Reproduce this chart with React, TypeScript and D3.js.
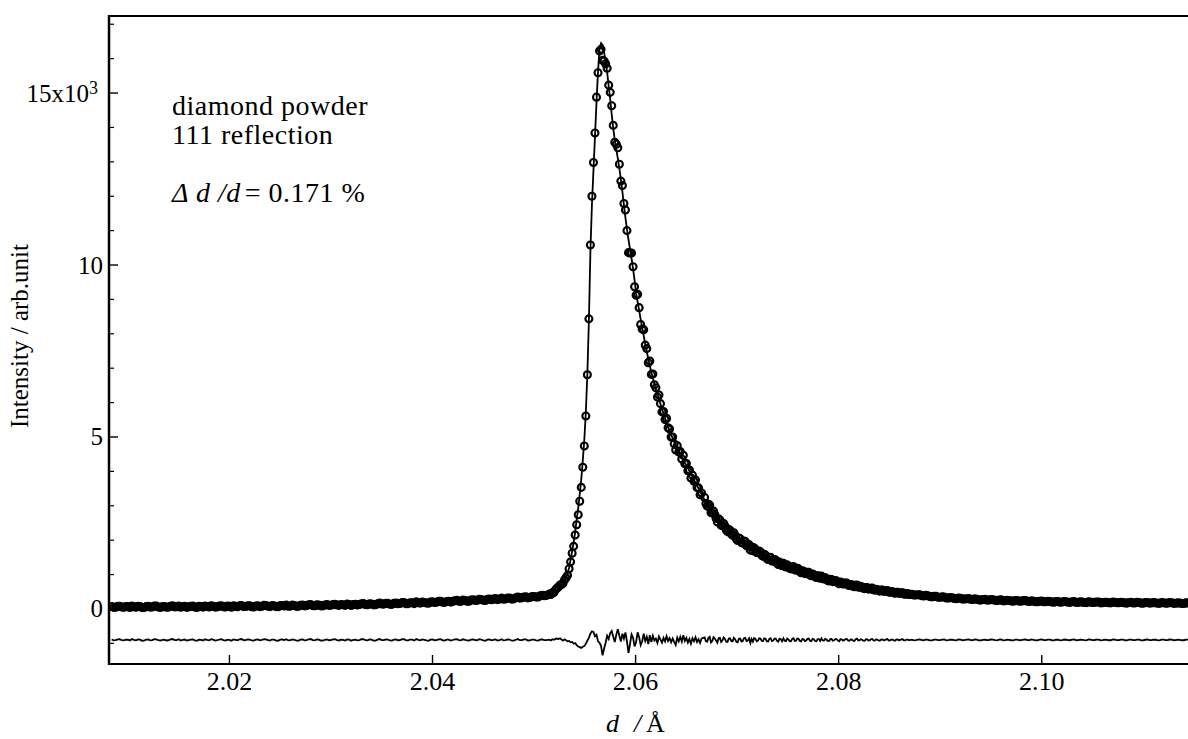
import React from 'react';
import * as d3 from 'd3';

// Each row: [d-spacing (Å), fitted intensity, observed − fitted]
type Row = [number, number, number];

const leftBackground: Row[] = [
  [2.0084,60,12],[2.0086,60,-14],[2.0088,60,-8],[2.0090,60,17],[2.0092,61,20],[2.0094,61,-4],[2.0096,61,-15],[2.0098,61,9],
  [2.0100,62,5],[2.0102,62,-19],[2.0104,62,24],[2.0106,62,2],[2.0108,62,-12],[2.0110,63,15],[2.0112,63,9],[2.0114,63,-23],
  [2.0116,63,-20],[2.0118,63,6],[2.0120,63,14],[2.0122,64,-11],[2.0124,64,-5],[2.0126,64,21],[2.0128,64,18],[2.0130,64,-8],
  [2.0132,64,-22],[2.0134,65,3],[2.0136,65,7],[2.0138,65,-16],[2.0140,65,-10],[2.0142,66,13],[2.0144,66,25],[2.0146,66,-6],
  [2.0148,66,-3],[2.0150,66,19],[2.0152,66,-18],[2.0154,67,-1],[2.0156,67,11],[2.0158,67,-21],[2.0160,67,-7],[2.0162,68,8],
  [2.0164,68,16],[2.0166,68,-12],[2.0168,68,-25],[2.0170,69,10],[2.0172,69,4],[2.0174,69,-15],[2.0176,69,19],[2.0178,70,1],
  [2.0180,70,-14],[2.0182,70,22],[2.0184,71,8],[2.0186,71,-18],[2.0188,71,-9],[2.0190,72,12],[2.0192,72,22],[2.0194,72,-5],
  [2.0196,73,-17],[2.0198,73,9],[2.0200,74,3],[2.0202,74,-22],[2.0204,75,15],[2.0206,75,4],[2.0208,76,-11],[2.0210,76,18],
  [2.0212,77,26],[2.0214,77,-9],[2.0216,78,-6],[2.0218,78,14],[2.0220,79,10],[2.0222,79,-16],[2.0224,80,-21],[2.0226,80,7],
  [2.0228,81,13],[2.0230,81,-12],[2.0232,82,-2],[2.0234,82,23],[2.0236,83,18],[2.0238,84,-7],[2.0240,85,-16],[2.0242,85,11],
  [2.0244,86,6],[2.0246,87,-19],[2.0248,88,-24],[2.0250,88,9],[2.0252,89,12],[2.0254,90,-3],[2.0256,91,21],[2.0258,92,-14],
  [2.0260,93,-9],[2.0262,94,17],[2.0264,95,4],[2.0266,96,-20],[2.0268,97,-19],[2.0270,98,8],[2.0272,99,16],[2.0274,100,-11],
  [2.0276,101,-4],[2.0278,102,19],[2.0280,103,27],[2.0282,104,-6],[2.0284,105,-13],[2.0286,106,12],[2.0288,107,8],[2.0290,108,-17],
  [2.0292,109,-20],[2.0294,110,5],[2.0296,112,14],[2.0298,113,-9],[2.0300,114,-7],[2.0302,115,16],[2.0304,116,23],[2.0306,117,-3],
  [2.0308,119,-15],[2.0310,120,10],[2.0312,121,2],[2.0314,122,-18],[2.0316,124,17],[2.0318,125,6],[2.0320,126,-26],[2.0322,127,4],
  [2.0324,129,9],[2.0326,130,-14],[2.0328,131,-3],[2.0330,132,21],[2.0332,134,20],[2.0334,135,-8],[2.0336,137,-12],[2.0338,138,13],
  [2.0340,140,6],[2.0342,141,-21],[2.0344,143,-18],[2.0346,144,9],[2.0348,146,25],[2.0350,147,-4],[2.0352,149,-8],[2.0354,150,15],
  [2.0356,152,11],[2.0358,153,-16],[2.0360,155,-22],[2.0362,156,7],[2.0364,158,15],[2.0366,160,-10],[2.0368,162,-5],[2.0370,164,20],
  [2.0372,166,19],[2.0374,167,-13],[2.0376,169,-14],[2.0378,171,11],[2.0380,173,7],[2.0382,175,-19],[2.0384,177,28],[2.0386,179,1],
  [2.0388,181,-10],[2.0390,183,16],[2.0392,186,3],[2.0394,188,-15],[2.0396,190,-23],[2.0398,192,8],[2.0400,195,16],[2.0402,197,-9],
  [2.0404,200,-6],[2.0406,202,18],[2.0408,205,21],[2.0410,207,-12],[2.0412,210,-17],[2.0414,213,6],[2.0416,216,9],[2.0418,219,-20],
  [2.0420,222,-2],[2.0422,225,14],[2.0424,228,24],[2.0426,231,-7],[2.0428,234,-13],[2.0430,237,19],[2.0432,240,5],[2.0434,243,-16],
  [2.0436,246,-21],[2.0438,249,10],[2.0440,252,18],[2.0442,255,-5],[2.0444,258,-9],[2.0446,261,22],[2.0448,264,12],[2.0450,267,-14],
  [2.0452,270,-25],[2.0454,273,8],[2.0456,276,14],[2.0458,279,-10],[2.0460,282,3],[2.0462,285,17],[2.0464,288,-16],[2.0466,291,-3],
  [2.0468,294,22],[2.0470,297,-15],[2.0472,300,-7],[2.0474,303,13],[2.0476,306,10],[2.0478,309,-22],[2.0480,313,-19],[2.0482,316,6],
  [2.0484,320,26],[2.0486,324,-8],[2.0488,328,-4],[2.0490,332,18],[2.0492,336,15],[2.0494,340,-17],[2.0496,345,-12],[2.0498,350,11],
  [2.0500,355,8],[2.0502,360,-14],[2.0504,366,-20],[2.0506,373,9],[2.0508,380,17],[2.0510,388,-3],[2.0512,396,-6],
];

const peakRegion: Row[] = [
  [2.05150,425,10],[2.05165,435,-15],[2.05180,450,20],[2.05195,470,5],[2.05210,525,30],[2.05225,565,40],[2.05240,610,25],
  [2.05255,648,45],[2.05270,700,10],[2.05285,770,-20],[2.05300,830,15],[2.05315,915,-10],[2.05330,1017,-40],[2.05345,1200,-30],
  [2.05360,1440,-70],[2.05375,1680,-60],[2.05390,1930,-110],[2.05405,2240,-90],[2.05420,2600,-150],[2.05435,2930,-190],
  [2.05450,3340,-210],[2.05465,3770,-235],[2.05480,4320,-200],[2.05495,4920,-180],[2.05510,5720,-110],[2.05525,6830,-20],
  [2.05540,8375,60],[2.05555,10400,180],[2.05570,11750,250],[2.05585,12750,230],[2.05600,13730,110],[2.05615,14730,150],
  [2.05630,15630,-40],[2.05645,16300,-80],[2.05660,16450,-180],[2.05675,16400,-450],[2.05690,16180,-250],[2.05705,15930,-80],
  [2.05720,15600,120],[2.05735,15200,30],[2.05750,14820,200],[2.05765,14370,260],[2.05780,13970,90],[2.05795,13630,-60],
  [2.05810,13360,150],[2.05825,13100,310],[2.05840,12810,120],[2.05855,12490,-50],[2.05870,12130,180],[2.05885,11750,40],
  [2.05900,11380,220],[2.05915,11040,-40],[2.05930,10740,-380],[2.05945,10470,-120],[2.05960,10190,160],[2.05975,9890,60],
  [2.05990,9560,-190],[2.06005,9180,-60],[2.06020,8930,220],[2.06035,8680,80],[2.06050,8420,-150],[2.06065,8180,-40],
  [2.06080,7940,180],[2.06095,7700,-30],[2.06110,7480,90],[2.06125,7280,-120],[2.06140,7070,140],[2.06155,6880,-60],
  [2.06170,6710,120],[2.06185,6540,-20],[2.06200,6390,40],[2.06215,6250,-90],[2.06230,6120,100],[2.06245,5960,10],
  [2.06260,5810,-80],[2.06275,5680,60],[2.06290,5550,-40],[2.06305,5430,110],[2.06320,5300,-30],[2.06335,5180,50],
  [2.06350,5070,-70],[2.06365,4960,40],[2.06380,4860,-60],[2.06395,4770,-150],[2.06410,4680,70],[2.06425,4600,-40],
  [2.06440,4490,90],[2.06455,4410,-50],[2.06470,4330,140],[2.06485,4250,-30],[2.06500,4170,60],[2.06515,4100,-80],
  [2.06530,4010,30],[2.06545,3920,-110],[2.06560,3840,50],[2.06575,3750,-40],[2.06590,3670,80],[2.06605,3590,-60],
  [2.06620,3500,20],[2.06635,3410,-90],[2.06650,3330,40],
];

const tailRegion: Row[] = [
  [2.066800,3170,70],[2.066925,3105,-40],[2.067050,3040,-50],[2.067175,2985,60],[2.067300,2930,90],[2.067425,2875,-70],
  [2.067550,2820,-30],[2.067675,2765,80],[2.067800,2710,40],[2.067925,2660,-20],[2.068050,2610,-80],[2.068175,2570,50],
  [2.068300,2530,60],[2.068425,2490,-60],[2.068550,2450,-20],[2.068675,2415,70],[2.068800,2380,30],[2.068925,2345,-50],
  [2.069050,2310,-60],[2.069175,2275,40],[2.069300,2240,50],[2.069425,2210,-30],[2.069550,2180,-40],[2.069675,2150,65],
  [2.069800,2120,20],[2.069925,2090,-55],[2.070050,2060,-70],[2.070175,2030,35],[2.070300,2000,40],[2.070425,1975,-45],
  [2.070550,1950,-30],[2.070675,1925,50],[2.070800,1900,60],[2.070925,1875,-35],[2.071050,1850,-20],[2.071175,1825,45],
  [2.071300,1800,-90],[2.071425,1772,30],[2.071550,1745,-50],[2.071675,1722,55],[2.071800,1700,30],[2.071925,1680,-40],
  [2.072050,1660,-20],[2.072175,1637,50],[2.072300,1615,40],[2.072425,1592,-30],[2.072550,1570,-35],[2.072675,1547,45],
  [2.072800,1525,35],[2.072925,1505,-40],[2.073050,1485,-45],[2.073175,1467,30],[2.073300,1450,50],[2.073425,1432,-35],
  [2.073550,1415,-20],[2.073675,1397,40],[2.073800,1380,40],[2.073925,1362,-30],[2.074050,1345,-50],[2.074175,1327,35],
  [2.074300,1310,20],[2.074425,1297,-40],[2.074550,1285,45],[2.074675,1270,-25],[2.074800,1255,-35],[2.074925,1242,40],
  [2.075050,1230,15],[2.075175,1217,-35],[2.075300,1205,-40],[2.075425,1192,30],[2.075550,1180,50],[2.075675,1167,-30],
  [2.075800,1155,-20],[2.075925,1142,40],[2.076050,1130,35],[2.076175,1115,-30],[2.076300,1100,-45],[2.076425,1087,25],
  [2.076550,1075,20],[2.076675,1062,-35],[2.076800,1050,-15],[2.076925,1037,30],[2.077050,1025,40],[2.077175,1012,-25],
  [2.077300,1000,-35],[2.077425,987,30],[2.077550,975,18],[2.077675,965,-30],[2.077800,955,-40],[2.077925,942,25],
  [2.078050,930,25],[2.078175,920,-28],[2.078300,910,45],[2.078425,900,-15],[2.078550,890,-20],[2.078675,880,30],
  [2.078800,870,10],[2.078925,860,-30],[2.079050,850,-35],[2.079175,840,22],[2.079300,830,28],[2.079425,820,-25],
  [2.079550,810,-12],[2.079675,800,26],[2.079800,790,20],[2.079925,782,-20],[2.080050,775,-40],[2.080175,765,18],
  [2.080300,755,15],[2.080425,747,-22],[2.080550,740,-8],[2.080675,730,24],[2.080800,720,30],[2.080925,712,-18],
  [2.081050,705,-24],[2.081175,697,15],[2.081300,690,12],[2.081425,682,-20],[2.081550,675,-28],[2.081675,667,18],
  [2.081800,660,35],[2.081925,652,-12],[2.082050,645,-15],[2.082175,637,20],[2.082300,630,6],[2.082425,623,-18],
  [2.082550,617,-26],[2.082675,610,14],[2.082800,603,20],[2.082925,596,-15],[2.083050,590,-10],[2.083175,583,18],
  [2.083300,577,28],[2.083425,571,-12],[2.083550,565,-18],[2.083675,559,16],[2.083800,553,8],[2.083925,547,-14],
  [2.084050,542,-22],[2.084175,536,12],[2.084300,531,16],[2.084425,525,-10],[2.084550,520,-6],[2.084675,515,15],
  [2.084800,510,24],[2.084925,505,-12],[2.085050,500,-16],[2.085175,495,10],[2.085300,490,9],[2.085425,485,-14],
  [2.085550,480,-22],[2.085675,475,12],[2.085800,470,17],[2.085925,465,-8],[2.086050,461,-4],[2.086175,456,13],
  [2.086300,452,20],[2.086425,447,-10],[2.086550,443,-14],[2.086675,438,9],[2.086800,434,7],[2.086925,431,-8],
];

const rightBackground: Row[] = [
  [2.0870,428,-5],[2.0872,422,8],[2.0874,416,-11],[2.0876,410,-6],[2.0878,405,10],[2.0880,399,12],[2.0882,393,-7],[2.0884,388,-10],
  [2.0886,382,13],[2.0888,377,3],[2.0890,371,-12],[2.0892,366,-14],[2.0894,361,6],[2.0896,356,9],[2.0898,350,-8],[2.0900,345,-4],
  [2.0902,340,11],[2.0904,335,15],[2.0906,330,-13],[2.0908,326,-8],[2.0910,321,9],[2.0912,317,5],[2.0914,312,-6],[2.0916,308,-12],
  [2.0918,303,14],[2.0920,299,10],[2.0922,296,-10],[2.0924,293,-3],[2.0926,290,8],[2.0928,288,14],[2.0930,285,-5],[2.0932,283,-9],
  [2.0934,280,12],[2.0936,278,6],[2.0938,275,-11],[2.0940,273,-15],[2.0942,270,4],[2.0944,268,11],[2.0946,265,-8],[2.0948,263,-2],
  [2.0950,260,13],[2.0952,258,8],[2.0954,256,-6],[2.0956,254,-11],[2.0958,252,9],[2.0960,250,13],[2.0962,248,-12],[2.0964,246,-6],
  [2.0966,245,10],[2.0968,243,4],[2.0970,241,-9],[2.0972,240,-13],[2.0974,238,7],[2.0976,236,9],[2.0978,235,-10],[2.0980,233,-5],
  [2.0982,231,11],[2.0984,230,12],[2.0986,228,-4],[2.0988,227,-8],[2.0990,225,14],[2.0992,224,2],[2.0994,222,-12],[2.0996,221,-10],
  [2.0998,219,6],[2.1000,218,14],[2.1002,216,-7],[2.1004,215,-4],[2.1006,213,10],[2.1008,212,7],[2.1010,211,-9],[2.1012,210,-12],
  [2.1014,209,5],[2.1016,208,10],[2.1018,207,-11],[2.1020,206,-3],[2.1022,205,12],[2.1024,204,5],[2.1026,203,-6],[2.1028,202,-9],
  [2.1030,201,8],[2.1032,200,13],[2.1034,199,-10],[2.1036,199,-6],[2.1038,198,9],[2.1040,197,3],[2.1042,196,-8],[2.1044,196,-11],
  [2.1046,195,12],[2.1048,194,8],[2.1050,193,-5],[2.1052,193,-2],[2.1054,192,10],[2.1056,191,11],[2.1058,190,-12],[2.1060,190,-7],
  [2.1062,189,6],[2.1064,189,4],[2.1066,188,-9],[2.1068,188,-10],[2.1070,187,13],[2.1072,186,9],[2.1074,186,-4],[2.1076,185,-5],
  [2.1078,185,8],[2.1080,184,6],[2.1082,184,-10],[2.1084,183,-12],[2.1086,182,7],[2.1088,182,10],[2.1090,181,-6],[2.1092,181,-3],
  [2.1094,180,11],[2.1096,180,7],[2.1098,179,-12],[2.1100,179,-9],[2.1102,178,5],[2.1104,178,12],[2.1106,177,-7],[2.1108,177,-4],
  [2.1110,176,9],[2.1112,176,5],[2.1114,175,-8],[2.1116,175,-11],[2.1118,174,10],[2.1120,174,8],[2.1122,173,-5],[2.1124,173,-2],
  [2.1126,172,12],[2.1128,172,10],[2.1130,172,-9],[2.1132,172,-7],[2.1134,171,6],[2.1136,171,3],[2.1138,170,-10],[2.1140,170,-9],
  [2.1142,170,8],[2.1144,170,6],[2.1146,170,-4],
];

// Axis definitions
const xTicks = [2.02, 2.04, 2.06, 2.08, 2.10];
const xTickLabels = ['2.02', '2.04', '2.06', '2.08', '2.10'];
const yMajorTicks = [0, 5000, 10000, 15000];
const yTickLabels = ['0', '5', '10', '15x10'];
const D_DOMAIN: [number, number] = [2.00814, 2.11519];
const I_DOMAIN: [number, number] = [-1600, 17240];
// The difference curve is drawn shifted below the zero line
const DIFF_OFFSET = -900;

const W = 1188;
const H = 739;
const PLOT = { left: 109, right: 1196, top: 16, bottom: 664 };
const FONT = "'Liberation Serif', 'Times New Roman', Times, serif";

export default function App() {
  const rows: Row[] = [...leftBackground, ...peakRegion, ...tailRegion, ...rightBackground];

  const x = d3.scaleLinear().domain(D_DOMAIN).range([PLOT.left, PLOT.right]);
  const y = d3.scaleLinear().domain(I_DOMAIN).range([PLOT.bottom, PLOT.top]);

  const fitPath = d3.line<Row>().x((r) => x(r[0])).y((r) => y(r[1]))(rows) ?? '';
  const diffPath = d3.line<Row>().x((r) => x(r[0])).y((r) => y(DIFF_OFFSET + r[2]))(rows) ?? '';
  const minorY = d3.range(-1000, 17001, 1000).filter((v) => v % 5000 !== 0);

  return (
    <svg
      width={W}
      height={H}
      viewBox={`0 0 ${W} ${H}`}
      style={{ position: 'absolute', left: 0, top: 0, background: '#fff', fontFamily: FONT }}
    >
      <defs>
        <clipPath id="plot-area">
          <rect x={PLOT.left} y={PLOT.top} width={W - PLOT.left} height={PLOT.bottom - PLOT.top} />
        </clipPath>
      </defs>

      <g clipPath="url(#plot-area)">
        {/* fitted profile */}
        <path d={fitPath} fill="none" stroke="#000" strokeWidth={1.8} />
        {/* observed points */}
        <g fill="none" stroke="#000" strokeWidth={2.1}>
          {rows.map((r, i) => (
            <circle key={i} cx={x(r[0])} cy={y(r[1] + r[2])} r={3.5} />
          ))}
        </g>
        {/* observed − calculated */}
        <path d={diffPath} fill="none" stroke="#000" strokeWidth={1.8} />
      </g>

      {/* frame */}
      <line x1={PLOT.left} x2={W} y1={PLOT.top} y2={PLOT.top} stroke="#000" strokeWidth={2} />
      <line x1={PLOT.left} x2={W} y1={PLOT.bottom} y2={PLOT.bottom} stroke="#000" strokeWidth={2} />
      <line x1={PLOT.left} x2={PLOT.left} y1={PLOT.top - 1} y2={PLOT.bottom + 1} stroke="#000" strokeWidth={2.5} />

      {/* y ticks */}
      {minorY.map((v) => (
        <line key={`m${v}`} x1={PLOT.left} x2={PLOT.left + 5} y1={y(v)} y2={y(v)} stroke="#000" strokeWidth={1.2} />
      ))}
      {yMajorTicks.map((v, i) => (
        <g key={`M${v}`}>
          <line x1={PLOT.left} x2={PLOT.left + 9} y1={y(v)} y2={y(v)} stroke="#000" strokeWidth={1.4} />
          {i === yMajorTicks.length - 1 ? (
            <text x={98} y={y(v) + 8.5} fontSize={25} textAnchor="end" fontFamily={FONT}>
              {yTickLabels[i]}
              <tspan fontSize={18} dy={-8}>3</tspan>
            </text>
          ) : (
            <text x={103} y={y(v) + 8.5} fontSize={25} textAnchor="end" fontFamily={FONT}>
              {yTickLabels[i]}
            </text>
          )}
        </g>
      ))}

      {/* x ticks */}
      {xTicks.map((v, i) => (
        <g key={`x${v}`}>
          <line x1={x(v)} x2={x(v)} y1={PLOT.bottom} y2={PLOT.bottom - 9} stroke="#000" strokeWidth={1.4} />
          <text x={x(v)} y={690} fontSize={26} textAnchor="middle" fontFamily={FONT}>
            {xTickLabels[i]}
          </text>
        </g>
      ))}

      {/* axis titles */}
      <text x={606} y={732} fontSize={26} fontFamily={FONT}>
        <tspan fontStyle="italic">d</tspan>
        <tspan x={634} fontStyle="italic">/</tspan>
        <tspan x={646}>Å</tspan>
      </text>
      <text transform="translate(28,336) rotate(-90)" fontSize={25} textAnchor="middle" fontFamily={FONT}>
        Intensity / arb.unit
      </text>

      {/* annotation */}
      <g fontSize={28} letterSpacing={0.5} fontFamily={FONT}>
        <text x={172} y={115}>diamond powder</text>
        <text x={172} y={144}>111 reflection</text>
        <text x={172} y={202}>
          <tspan fontStyle="italic">Δ d /d</tspan>
          <tspan dx={4}>= 0.171 %</tspan>
        </text>
      </g>
    </svg>
  );
}
